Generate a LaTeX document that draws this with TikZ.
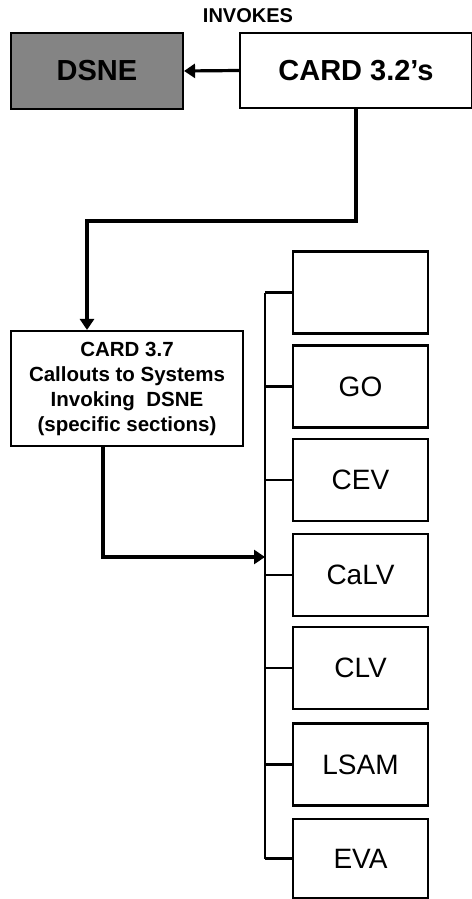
\documentclass[tikz,border=0pt]{standalone}
\usepackage{fontspec}
\setmainfont{Liberation Sans}
\usetikzlibrary{arrows.meta}
\definecolor{ink}{HTML}{000000}
\definecolor{shade}{HTML}{848484}
\tikzset{
  box/.style={draw=ink, line width=2.1pt, inner sep=0pt, fill=white},
  dark/.style={box, fill=shade},
  sys/.style={box, minimum width=135pt, minimum height=82pt, font=\fontsize{28}{30}\selectfont},
  big/.style={font=\fontsize{29}{31}\selectfont\bfseries},
  wire/.style={draw=ink, line width=2.1pt},
  arr/.style={draw=ink, line width=3.2pt, -{Triangle[length=11pt,width=14pt]}},
}

\begin{document}
\begin{tikzpicture}[x=1pt,y=-1pt]
  \useasboundingbox (0,0) rectangle (471,899);
  \coordinate (bus) at (265,0);
  \coordinate (j1) at (87,221);
  \coordinate (j2) at (103,557);
  \node[font=\fontsize{20}{22}\selectfont\bfseries] (inv) at (248,16) {INVOKES};
  \node[dark,big,minimum width=172pt,minimum height=76pt] (dsne) at (97,71) {DSNE};
  \node[box,big,minimum width=232pt,minimum height=75pt] (c32) at (356,70.5) {CARD 3.2’s};
  \node[box,minimum width=232pt,minimum height=115pt,align=center,
    font=\fontsize{20.5}{25}\selectfont\bfseries] (c37) at (127,388.5)
    {CARD 3.7\\Callouts to Systems\\Invoking\ \ DSNE\\(specific sections)};
  % systems
  \node[sys] (s0) at (360.5,292.5) {};
  \node[sys] (go) at (360.5,386.5) {GO};
  \node[sys] (cev) at (360.5,480) {CEV};
  \node[sys] (calv) at (360.5,575) {CaLV};
  \node[sys] (clv) at (360.5,668) {CLV};
  \node[sys] (lsam) at (360.5,764.5) {LSAM};
  \node[sys,minimum height=79pt] (eva) at (360.5,858.5) {EVA};
  \draw[wire] (s0.west -| bus) -- (eva.west -| bus);
  \draw[wire] (s0.west) -- (s0.west -| bus) (go.west) -- (go.west -| bus)
    (cev.west) -- (cev.west -| bus) (calv.west) -- (calv.west -| bus)
    (clv.west) -- (clv.west -| bus) (lsam.west) -- (lsam.west -| bus)
    (eva.west) -- (eva.west -| bus);
  % calls
  \draw[arr] (c32.west) -- (dsne.east);
  \draw[arr] (c32.south) |- (j1) -- (j1 |- c37.north);
  \draw[arr] (j2 |- c37.south) -- (j2) -- (j2 -| bus);
\end{tikzpicture}
\end{document}
